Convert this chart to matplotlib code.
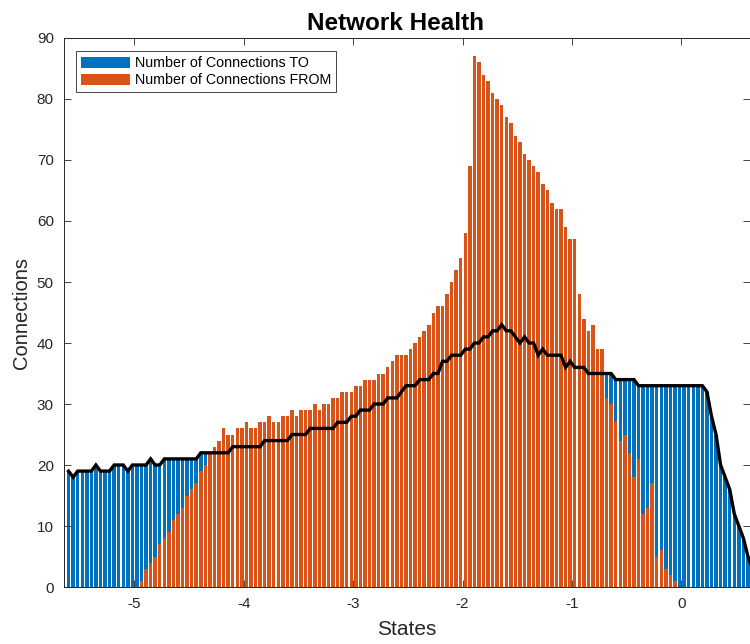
import matplotlib
matplotlib.use('Agg')
import matplotlib.pyplot as plt
import numpy as np

plt.rcParams['font.family'] = ['Liberation Sans', 'DejaVu Sans']
plt.rcParams['axes.unicode_minus'] = False

# state bins (centres start at -5.6, width 1/24)
bin_start = -5.6
bin_width = 1 / 24

# number of connections TO each state (also drawn as the black line)
conn_to = [19, 18, 19, 19, 19, 19, 20, 19, 19, 19,
           20, 20, 20, 19, 20, 20, 20, 20, 21, 20,
           20, 21, 21, 21, 21, 21, 21, 21, 21, 22,
           22, 22, 22, 22, 22, 22, 23, 23, 23, 23,
           23, 23, 23, 24, 24, 24, 24, 24, 24, 25,
           25, 25, 25, 26, 26, 26, 26, 26, 26, 27,
           27, 27, 28, 28, 29, 29, 29, 30, 30, 30,
           31, 31, 31, 32, 33, 33, 33, 34, 34, 34,
           35, 35, 37, 37, 38, 38, 38, 39, 39, 40,
           40, 41, 41, 42, 42, 43, 42, 42, 41, 40,
           41, 40, 40, 38, 39, 38, 38, 38, 38, 36,
           37, 36, 36, 36, 35, 35, 35, 35, 35, 35,
           34, 34, 34, 34, 34, 33, 33, 33, 33, 33,
           33, 33, 33, 33, 33, 33, 33, 33, 33, 33,
           32, 28, 25, 20, 18, 16, 12, 10, 8, 5, 3]

# number of connections FROM each state
conn_from = [0, 0, 0, 0, 0, 0, 0, 0, 0, 0,
             0, 0, 0, 0, 0, 0, 1, 3, 4, 5,
             7, 8, 9, 11, 12, 13, 15, 16, 17, 19,
             20, 22, 23, 24, 26, 25, 25, 26, 26, 27,
             26, 26, 27, 27, 28, 27, 27, 28, 28, 29,
             28, 29, 29, 29, 30, 29, 30, 30, 31, 31,
             32, 32, 32, 33, 33, 34, 34, 34, 35, 35,
             36, 37, 38, 38, 38, 39, 40, 41, 42, 43,
             45, 46, 46, 48, 50, 52, 54, 58, 69, 87,
             86, 84, 83, 81, 80, 79, 77, 76, 74, 73,
             71, 70, 69, 68, 66, 65, 63, 62, 62, 59,
             57, 57, 48, 44, 42, 43, 39, 39, 31, 30,
             27, 24, 25, 22, 18, 21, 12, 13, 17, 5,
             6, 3, 2, 1, 0, 0, 0, 0, 0, 0,
             0, 0, 0, 0, 0, 0, 0, 0, 0, 0, 0]

states = bin_start + bin_width * np.arange(len(conn_to))

blue = '#0072BD'
orange = '#D95319'
axcol = '#262626'

fig = plt.figure(figsize=(7.5, 6.44), dpi=100)
ax = fig.add_axes([0.0847, 0.0885, 0.9153, 0.8525])

b1 = ax.bar(states, conn_to, width=bin_width * 0.76, color=blue, linewidth=0,
            label='Number of Connections TO')
b2 = ax.bar(states, conn_from, width=bin_width * 0.76, color=orange, linewidth=0,
            label='Number of Connections FROM')
ax.plot(states, conn_to, color='black', linewidth=2.4, solid_joinstyle='miter')

ax.set_xlim(-5.646, 0.627)
ax.set_ylim(0, 90)
ax.set_xticks([-5, -4, -3, -2, -1, 0])
ax.set_yticks(np.arange(0, 91, 10))

ax.tick_params(direction='in', length=5, width=0.6, colors=axcol,
               labelsize=11, top=True, right=True, pad=7)
for s in ax.spines.values():
    s.set_color(axcol)
    s.set_linewidth(0.7)

ax.set_title('Network Health', fontsize=17.5, fontweight='bold', pad=6, x=0.483)
ax.set_xlabel('States', fontsize=15, color=axcol, labelpad=7)
ax.set_ylabel('Connections', fontsize=14.5, color=axcol, labelpad=4)

leg = ax.legend(handles=[b1, b2], loc='upper left', bbox_to_anchor=(0.0177, 0.976),
                borderaxespad=0, fontsize=10.3, handlelength=3.45, handleheight=0.85,
                handletextpad=0.35, labelspacing=0.22, borderpad=0.35,
                fancybox=False, framealpha=1, edgecolor='#262626')
leg.get_frame().set_linewidth(0.6)

fig.savefig('out.png', dpi=100)
